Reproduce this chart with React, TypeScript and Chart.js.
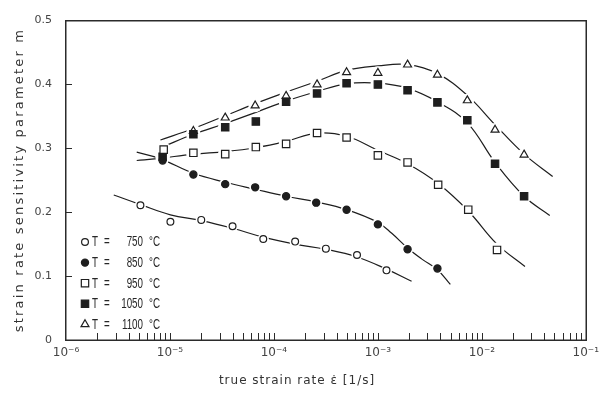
import React, { useEffect, useRef } from 'react';
import { Chart, registerables } from 'chart.js';

Chart.register(...registerables);

// ---- data ----
const temps = ['750', '850', '950', '1050', '1100'];

const rate750 = [5.2e-6, 1.01e-5, 2.0e-5, 4.0e-5, 7.9e-5, 1.6e-4, 3.16e-4, 6.3e-4, 1.21e-3];
const m750 = [0.211, 0.185, 0.188, 0.178, 0.158, 0.154, 0.143, 0.133, 0.109];
const fitRate750 = [2.88e-6, 5.2e-6, 1.01e-5, 2.0e-5, 4.0e-5, 7.9e-5, 1.6e-4, 3.16e-4, 6.3e-4, 1.21e-3, 2.11e-3];
const fitM750 = [0.227, 0.212, 0.196, 0.187, 0.175, 0.161, 0.150, 0.142, 0.130, 0.111, 0.092];

const rate850 = [8.5e-6, 1.68e-5, 3.4e-5, 6.6e-5, 1.31e-4, 2.55e-4, 5.0e-4, 1.0e-3, 1.93e-3, 3.74e-3];
const m850 = [0.281, 0.259, 0.244, 0.239, 0.225, 0.215, 0.204, 0.181, 0.142, 0.112];
const fitRate850 = [4.79e-6, 8.0e-6, 1.68e-5, 3.4e-5, 6.6e-5, 1.31e-4, 2.55e-4, 5.0e-4, 1.0e-3, 1.36e-3, 1.93e-3, 2.63e-3, 3.74e-3, 4.98e-3];
const fitM850 = [0.294, 0.284, 0.261, 0.247, 0.236, 0.225, 0.216, 0.204, 0.184, 0.167, 0.144, 0.127, 0.110, 0.087];

const rate950 = [8.7e-6, 1.68e-5, 3.4e-5, 6.7e-5, 1.31e-4, 2.6e-4, 5.0e-4, 1.0e-3, 1.93e-3, 3.8e-3, 7.4e-3, 1.4e-2];
const m950 = [0.298, 0.293, 0.291, 0.302, 0.307, 0.324, 0.317, 0.289, 0.278, 0.243, 0.204, 0.141];
const fitRate950 = [4.79e-6, 7.6e-6, 1.68e-5, 3.4e-5, 6.6e-5, 1.31e-4, 2.6e-4, 5.0e-4, 1.0e-3, 1.93e-3, 3.8e-3, 7.4e-3, 1.4e-2, 2.6e-2];
const fitM950 = [0.281, 0.284, 0.291, 0.295, 0.301, 0.311, 0.324, 0.319, 0.297, 0.276, 0.245, 0.202, 0.150, 0.115];

const rate1050 = [8.5e-6, 1.68e-5, 3.4e-5, 6.7e-5, 1.31e-4, 2.6e-4, 5.0e-4, 1.0e-3, 1.93e-3, 3.74e-3, 7.25e-3, 1.34e-2, 2.55e-2];
const m1050 = [0.287, 0.322, 0.333, 0.342, 0.373, 0.386, 0.402, 0.400, 0.391, 0.372, 0.344, 0.276, 0.225];
const fitRate1050 = [8.7e-6, 1.68e-5, 3.4e-5, 6.6e-5, 1.31e-4, 2.6e-4, 5.0e-4, 1.0e-3, 1.93e-3, 3.74e-3, 7.25e-3, 1.34e-2, 2.55e-2, 4.5e-2];
const fitM1050 = [0.303, 0.322, 0.339, 0.356, 0.374, 0.389, 0.401, 0.402, 0.394, 0.373, 0.340, 0.278, 0.225, 0.195];

const rate1100 = [1.68e-5, 3.4e-5, 6.6e-5, 1.31e-4, 2.6e-4, 5.0e-4, 1.0e-3, 1.93e-3, 3.74e-3, 7.25e-3, 1.34e-2, 2.55e-2];
const m1100 = [0.327, 0.348, 0.367, 0.382, 0.400, 0.419, 0.418, 0.431, 0.415, 0.375, 0.329, 0.290];
const fitRate1100 = [8.1e-6, 1.68e-5, 3.4e-5, 6.6e-5, 1.31e-4, 2.6e-4, 5.0e-4, 1.0e-3, 1.93e-3, 3.74e-3, 7.25e-3, 1.34e-2, 2.55e-2, 4.8e-2];
const fitM1100 = [0.313, 0.331, 0.351, 0.370, 0.388, 0.405, 0.422, 0.429, 0.431, 0.417, 0.383, 0.337, 0.291, 0.256];

const xDecades = [-6, -5, -4, -3, -2, -1];
const yTickValues = [0, 0.1, 0.2, 0.3, 0.4, 0.5];

const xTitle = 'true strain rate \u03B5\u0307 [1/s]';
const yTitle = 'strain rate sensitivity parameter m';

// ---- styles ----
const INK = '#1e1e1e';
const seriesStyle = [
  { shape: 'circle', filled: false, r: 3.4 },
  { shape: 'circle', filled: true, r: 3.6 },
  { shape: 'rect', filled: false, r: 5.2 },
  { shape: 'rect', filled: true, r: 5.2 },
  { shape: 'triangle', filled: false, r: 4.6 },
];

const seriesData = [
  { x: rate750, y: m750, fx: fitRate750, fy: fitM750 },
  { x: rate850, y: m850, fx: fitRate850, fy: fitM850 },
  { x: rate950, y: m950, fx: fitRate950, fy: fitM950 },
  { x: rate1050, y: m1050, fx: fitRate1050, fy: fitM1050 },
  { x: rate1100, y: m1100, fx: fitRate1100, fy: fitM1100 },
];

const zip = (xs: number[], ys: number[]) => xs.map((x, i) => ({ x, y: ys[i] }));

const xTickValues: number[] = [];
for (let d = -6; d < -1; d++) {
  for (let k = 1; k <= 9; k++) xTickValues.push(k * Math.pow(10, d));
}
xTickValues.push(1e-1);

const sup: Record<string, string> = {
  '-': '\u207B', '0': '\u2070', '1': '\u00B9', '2': '\u00B2', '3': '\u00B3',
  '4': '\u2074', '5': '\u2075', '6': '\u2076', '7': '\u2077', '8': '\u2078', '9': '\u2079',
};
const supText = (n: number) => String(n).split('').map((c) => sup[c] || c).join('');

function drawMarker(ctx: CanvasRenderingContext2D, shape: string, filled: boolean, r: number, x: number, y: number) {
  ctx.save();
  ctx.beginPath();
  if (shape === 'circle') {
    ctx.arc(x, y, r, 0, Math.PI * 2);
  } else if (shape === 'rect') {
    const s = r * Math.SQRT1_2;
    ctx.rect(x - s, y - s, 2 * s, 2 * s);
  } else {
    let a = 0;
    ctx.moveTo(x + Math.sin(a) * r, y - Math.cos(a) * r);
    a += (2 * Math.PI) / 3;
    ctx.lineTo(x + Math.sin(a) * r, y - Math.cos(a) * r);
    a += (2 * Math.PI) / 3;
    ctx.lineTo(x + Math.sin(a) * r, y - Math.cos(a) * r);
    ctx.closePath();
  }
  ctx.fillStyle = filled ? INK : '#ffffff';
  ctx.fill();
  ctx.lineWidth = 1.2;
  ctx.strokeStyle = INK;
  ctx.stroke();
  ctx.restore();
}

const framePlugin = {
  id: 'frameTicks',
  afterDraw(chart: any) {
    const ctx: CanvasRenderingContext2D = chart.ctx;
    const ca = chart.chartArea;
    const left = Math.round(ca.left);
    const right = Math.round(ca.right);
    const top = Math.round(ca.top);
    const bottom = Math.round(ca.bottom);
    const xs = chart.scales.x;
    const ys = chart.scales.y;
    ctx.save();
    ctx.globalAlpha = 1;
    ctx.globalCompositeOperation = 'source-over';
    ctx.fillStyle = '#2b2b2b';
    ctx.fillRect(left - 1, top - 1, right - left + 2, 1.5);
    ctx.fillRect(left - 1, bottom - 0.5, right - left + 2, 1.5);
    ctx.fillRect(left - 1, top - 1, 1.5, bottom - top + 2);
    ctx.fillRect(right - 0.5, top - 1, 1.5, bottom - top + 2);
    xTickValues.forEach((v) => {
      const px = Math.round(xs.getPixelForValue(v));
      if (px <= left + 1 || px >= right - 1) return;
      ctx.fillRect(px, bottom - 7, 1, 7);
    });
    yTickValues.forEach((v) => {
      const py = Math.round(ys.getPixelForValue(v));
      if (py <= top + 1 || py >= bottom - 1) return;
      ctx.fillRect(left, py, 6, 1);
    });
    ctx.restore();
  },
};

const textPlugin = {
  id: 'titlesLegend',
  afterDraw(chart: any) {
    const ctx: CanvasRenderingContext2D = chart.ctx;
    ctx.save();
    ctx.fillStyle = '#333';
    (ctx as any).letterSpacing = '1px';
    ctx.font = '12px "DejaVu Sans"';
    ctx.textAlign = 'center';
    ctx.textBaseline = 'middle';
    ctx.fillText(xTitle, 297, 381);
    ctx.save();
    (ctx as any).letterSpacing = '2.2px';
    ctx.font = '13px "DejaVu Sans"';
    ctx.translate(20, 180);
    ctx.rotate(-Math.PI / 2);
    ctx.fillText(yTitle, 0, 0);
    ctx.restore();
    (ctx as any).letterSpacing = '0px';

    const rowY0 = 242;
    const rowStep = 20.6;
    temps.forEach((t, i) => {
      const y = rowY0 + i * rowStep;
      const st = seriesStyle[i];
      drawMarker(ctx, st.shape, st.filled, st.r, 85, y);
      ctx.fillStyle = '#262626';
      ctx.font = '14px "Liberation Sans"';
      ctx.textBaseline = 'middle';
      const put = (txt: string, x: number, align: CanvasTextAlign) => {
        ctx.save();
        ctx.translate(x, y + 0.5);
        ctx.scale(0.7, 1);
        ctx.textAlign = align;
        ctx.fillText(txt, 0, 0);
        ctx.restore();
      };
      put('T', 92, 'left');
      put('=', 104, 'left');
      put(t, 143, 'right');
      put('\u00B0C', 149, 'left');
    });
    ctx.restore();
  },
};

export default function App() {
  const ref = useRef<HTMLCanvasElement | null>(null);
  useEffect(() => {
    if (!ref.current) return;
    const datasets: any[] = [];
    seriesData.forEach((s, i) => {
      const st = seriesStyle[i];
      datasets.push({
        label: `T = ${temps[i]} \u00B0C`,
        data: zip(s.x, s.y),
        showLine: false,
        pointStyle: st.shape,
        pointRadius: st.r,
        pointBackgroundColor: st.filled ? INK : '#ffffff',
        pointBorderColor: INK,
        pointBorderWidth: 1.2,
        order: 0,
      });
      datasets.push({
        label: `halo ${temps[i]}`,
        data: zip(s.x, s.y),
        showLine: false,
        pointStyle: 'circle',
        pointRadius: st.r + 2.2,
        pointBackgroundColor: '#ffffff',
        pointBorderWidth: 0,
        pointBorderColor: '#ffffff',
        order: 1,
      });
      datasets.push({
        label: `fit ${temps[i]}`,
        data: zip(s.fx, s.fy),
        showLine: true,
        pointRadius: 0,
        borderColor: INK,
        borderWidth: 1.2,
        tension: 0.4,
        fill: false,
        order: 2,
      });
    });

    const chart = new Chart(ref.current, {
      type: 'scatter',
      data: { datasets },
      options: {
        animation: false,
        responsive: false,
        maintainAspectRatio: false,
        devicePixelRatio: 1,
        layout: { padding: { left: 0, top: 14, right: 17, bottom: 0 } },
        plugins: {
          legend: { display: false },
          tooltip: { enabled: false },
          title: { display: false },
        },
        scales: {
          x: {
            type: 'logarithmic',
            min: 1e-6,
            max: 1e-1,
            position: 'bottom',
            afterBuildTicks: (s: any) => {
              s.ticks = xTickValues.map((v) => ({ value: v }));
            },
            afterFit: (s: any) => {
              s.height = 54;
            },
            grid: { display: false, drawTicks: false },
            border: { display: false },
            ticks: {
              autoSkip: false,
              maxRotation: 0,
              padding: 6,
              color: '#444',
              font: { family: 'DejaVu Sans', size: 12 },
              callback: (v: any) => {
                const lg = Math.log10(Number(v));
                const r = Math.round(lg);
                if (Math.abs(lg - r) > 1e-6 || !xDecades.includes(r)) return '';
                return '10' + supText(r);
              },
            },
          },
          y: {
            type: 'linear',
            min: 0,
            max: 0.5,
            afterBuildTicks: (s: any) => {
              s.ticks = yTickValues.map((v) => ({ value: v }));
            },
            afterFit: (s: any) => {
              s.width = 66;
            },
            grid: { display: false, drawTicks: false },
            border: { display: false },
            ticks: {
              padding: 14,
              color: '#444',
              font: { family: 'DejaVu Sans', size: 11 },
              callback: (v: any) => String(Number(v)),
            },
          },
        },
      },
      plugins: [framePlugin, textPlugin],
    });
    return () => chart.destroy();
  }, []);

  return (
    <div style={{ position: 'fixed', left: 0, top: 0, width: 605, height: 394, background: '#fff' }}>
      <canvas ref={ref} width={605} height={394} style={{ width: 605, height: 394, display: 'block' }} />
    </div>
  );
}
